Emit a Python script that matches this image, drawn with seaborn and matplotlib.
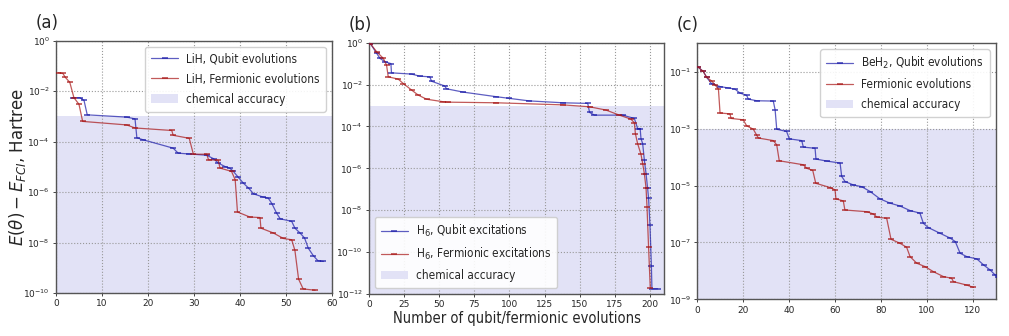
import numpy as np
import pandas as pd
import matplotlib
matplotlib.use("Agg")
import matplotlib.pyplot as plt
import seaborn as sns

# ---- data (x = number of evolutions, y = log10 of energy error in Hartree) ----
lih_qubit_x = [3.6, 5.2, 6.1, 6.8, 15.4, 17.2, 17.6, 19.0, 25.5, 26.6, 29.0, 32.8, 34.3, 35.3, 36.8, 37.8,
               38.6, 39.7, 40.8, 41.9, 43.0, 45.1, 46.2, 47.0, 48.0, 48.8, 51.3, 52.0, 53.1, 54.1, 54.9, 56.0, 57.0, 58.2]
lih_qubit_logy = [-2.26, -2.26, -2.37, -2.94, -3.03, -3.10, -3.85, -3.93, -4.26, -4.46, -4.49, -4.54, -4.68, -4.85,
                  -4.99, -5.05, -5.18, -5.42, -5.65, -5.84, -6.07, -6.20, -6.24, -6.46, -6.83, -7.06, -7.16, -7.43,
                  -7.62, -7.82, -8.22, -8.52, -8.72, -8.75]
lih_ferm_x = [0.5, 1.5, 2.0, 3.0, 3.9, 5.0, 5.8, 15.4, 17.2, 25.2, 25.5, 29.0, 29.9, 32.8, 33.2, 35.3, 35.7, 38.2,
              39.0, 39.5, 42.2, 44.4, 44.6, 47.3, 49.5, 51.3, 52.0, 52.8, 53.8, 56.4]
lih_ferm_logy = [-1.27, -1.30, -1.45, -1.65, -2.26, -2.52, -3.20, -3.34, -3.46, -3.56, -3.75, -3.87, -4.50, -4.50,
                 -4.72, -4.74, -5.05, -5.18, -5.51, -6.79, -6.99, -7.01, -7.43, -7.62, -7.84, -7.89, -8.31, -9.45,
                 -9.84, -9.89]

h6_qubit_x = [1.0, 5.4, 7.8, 11.4, 15.6, 16.0, 30.3, 36.2, 43.3, 44.5, 54.0, 55.1, 67.0, 90.6, 100.0, 114.0, 138.0,
              155.7, 157.0, 160.5, 180.6, 188.9, 191.2, 193.0, 193.6, 194.8, 196.0, 197.2, 198.3, 199.0, 200.0,
              201.0, 201.4, 205.4]
h6_qubit_logy = [-0.05, -0.50, -0.75, -0.91, -1.00, -1.44, -1.50, -1.60, -1.63, -1.84, -2.07, -2.20, -2.36, -2.58,
                 -2.66, -2.78, -2.87, -2.90, -3.33, -3.46, -3.46, -3.62, -4.10, -4.10, -4.58, -4.82, -5.61, -6.25,
                 -6.94, -7.42, -8.72, -10.64, -11.75, -11.75]
h6_ferm_x = [1.0, 5.4, 10.2, 12.5, 13.7, 20.8, 24.4, 30.3, 35.0, 41.0, 52.8, 56.0, 90.6, 138.0, 157.0, 168.8, 178.2,
             186.5, 188.9, 189.6, 191.2, 193.6, 194.8, 196.0, 197.2, 197.9, 199.0, 200.2]
h6_ferm_logy = [-0.05, -0.43, -0.75, -1.07, -1.63, -1.74, -1.95, -2.26, -2.50, -2.70, -2.82, -2.84, -2.87, -2.97,
                -3.06, -3.22, -3.46, -3.65, -3.83, -4.34, -4.82, -5.33, -5.77, -6.25, -6.94, -7.85, -9.76, -11.70]

beh2_qubit_x = [0.4, 2.6, 4.1, 6.2, 9.9, 13.5, 16.4, 18.6, 21.5, 22.2, 25.9, 33.1, 33.9, 34.6, 38.9, 40.1, 45.5,
                46.2, 51.3, 51.7, 56.4, 62.2, 62.9, 64.4, 68.0, 71.6, 75.3, 79.6, 84.0, 88.3, 92.7, 97.0, 98.5,
                100.7, 105.8, 110.2, 112.4, 114.5, 117.4, 121.8, 124.7, 127.6, 129.7, 131.0]
beh2_qubit_logy = [-0.84, -0.99, -1.20, -1.42, -1.52, -1.57, -1.61, -1.75, -1.83, -1.96, -2.02, -2.03, -2.34,
                   -3.02, -3.10, -3.36, -3.42, -3.65, -3.69, -4.07, -4.14, -4.21, -4.68, -4.86, -4.98, -5.04,
                   -5.21, -5.47, -5.62, -5.72, -5.88, -5.97, -6.33, -6.48, -6.68, -6.85, -6.97, -7.38, -7.50,
                   -7.58, -7.79, -7.97, -8.14, -8.20]
beh2_ferm_x = [0.4, 2.6, 4.1, 6.2, 7.7, 9.2, 9.9, 14.2, 14.7, 20.0, 21.5, 24.4, 25.8, 26.6, 33.1, 34.6, 35.7, 46.2,
               47.6, 50.3, 51.6, 57.8, 60.0, 60.4, 63.6, 64.3, 73.8, 76.7, 78.2, 82.5, 84.4, 88.3, 91.2, 92.7,
               95.6, 99.2, 102.9, 107.2, 110.8, 111.6, 117.4, 120.3]
beh2_ferm_logy = [-0.84, -0.99, -1.20, -1.32, -1.46, -1.61, -2.45, -2.48, -2.64, -2.69, -2.90, -3.02, -3.22, -3.33,
                  -3.42, -3.57, -4.13, -4.27, -4.39, -4.47, -4.92, -5.07, -5.15, -5.47, -5.54, -5.86, -5.92,
                  -6.00, -6.11, -6.15, -6.89, -7.03, -7.17, -7.50, -7.73, -7.85, -8.03, -8.20, -8.26, -8.38,
                  -8.50, -8.58]

chem_acc = 1e-3

panels = [
    dict(tag="(a)", qx=lih_qubit_x, qy=lih_qubit_logy, fx=lih_ferm_x, fy=lih_ferm_logy,
         qlab="LiH, Qubit evolutions", flab="LiH, Fermionic evolutions",
         xlim=(0, 60), xticks=[0, 10, 20, 30, 40, 50, 60], ylim=(1e-10, 1), yexp=[0, -2, -4, -6, -8, -10],
         loc="upper right", rect=[0.0555, 0.128, 0.2732, 0.751]),
    dict(tag="(b)", qx=h6_qubit_x, qy=h6_qubit_logy, fx=h6_ferm_x, fy=h6_ferm_logy,
         qlab="H$_6$, Qubit excitations", flab="H$_6$, Fermionic excitations",
         xlim=(0, 210), xticks=[0, 25, 50, 75, 100, 125, 150, 175, 200], ylim=(1e-12, 1),
         yexp=[0, -2, -4, -6, -8, -10, -12], loc="lower left", rect=[0.3657, 0.125, 0.2924, 0.748]),
    dict(tag="(c)", qx=beh2_qubit_x, qy=beh2_qubit_logy, fx=beh2_ferm_x, fy=beh2_ferm_logy,
         qlab="BeH$_2$, Qubit evolutions", flab="Fermionic evolutions",
         xlim=(0, 130), xticks=[0, 20, 40, 60, 80, 100, 120], ylim=(1e-9, 1),
         yexp=[-1, -3, -5, -7, -9], loc="upper right", rect=[0.6911, 0.1092, 0.2957, 0.7619]),
]

sns.set_style("white")
plt.rcParams["font.family"] = ["DejaVu Sans"]
plt.rcParams["mathtext.fontset"] = "dejavusans"

fig = plt.figure(figsize=(10.09, 3.36), dpi=100)

blue = "#1a1aa8"
red = "#a81414"
shade = "#e2e2f6"

for p in panels:
    ax = fig.add_axes(p["rect"])
    ax.axhspan(p["ylim"][0], chem_acc, color=shade, lw=0, label="chemical accuracy", zorder=0)
    dq = pd.DataFrame({"x": p["qx"], "y": np.power(10.0, p["qy"])})
    df = pd.DataFrame({"x": p["fx"], "y": np.power(10.0, p["fy"])})
    sns.lineplot(data=dq, x="x", y="y", ax=ax, color=blue, alpha=0.7, lw=0.9, marker="_", ms=5, mew=1.3,
                 mec=blue, estimator=None, sort=False, label=p["qlab"], zorder=3)
    sns.lineplot(data=df, x="x", y="y", ax=ax, color=red, alpha=0.7, lw=0.9, marker="_", ms=5, mew=1.3,
                 mec=red, estimator=None, sort=False, label=p["flab"], zorder=3)
    ax.set_yscale("log")
    ax.set_xlim(*p["xlim"])
    ax.set_ylim(*p["ylim"])
    ax.set_xticks(p["xticks"])
    ax.set_yticks([10.0 ** e for e in p["yexp"]])
    ax.set_yticklabels([f"$10^{{{e}}}$" for e in p["yexp"]])
    ax.yaxis.set_minor_locator(matplotlib.ticker.NullLocator())
    ax.tick_params(labelsize=6.5, length=2.5, width=0.6, pad=2, left=True, bottom=True)
    ax.grid(True, linestyle=":", color="#999999", lw=0.8)
    for s in ax.spines.values():
        s.set_color("#555555")
        s.set_linewidth(1.0)
    ax.set_xlabel("")
    ax.set_ylabel("")
    h, l = ax.get_legend_handles_labels()
    order = [l.index(p["qlab"]), l.index(p["flab"]), l.index("chemical accuracy")]
    ax.legend([h[i] for i in order], [l[i] for i in order], loc=p["loc"],
              prop=dict(size=8.5, stretch="condensed"),
              frameon=True, fancybox=True, framealpha=0.9, edgecolor="#cccccc",
              handlelength=2.3, borderpad=0.5, labelspacing=0.6, handletextpad=0.7)
    r = p["rect"]
    fig.text(r[0] - 0.0205, r[1] + r[3] + 0.027, p["tag"], fontsize=12, ha="left", va="bottom")
    if p["tag"] == "(a)":
        ax.set_ylabel(r"$E(\theta) - E_{FCI}$, Hartree", fontsize=12)
        ax.yaxis.set_label_coords(-0.102, 0.5)
    if p["tag"] == "(b)":
        ax.set_xlabel("Number of qubit/fermionic evolutions", fontsize=10.5, fontstretch="condensed",
                      labelpad=1)

fig.savefig("out.png", dpi=100)
